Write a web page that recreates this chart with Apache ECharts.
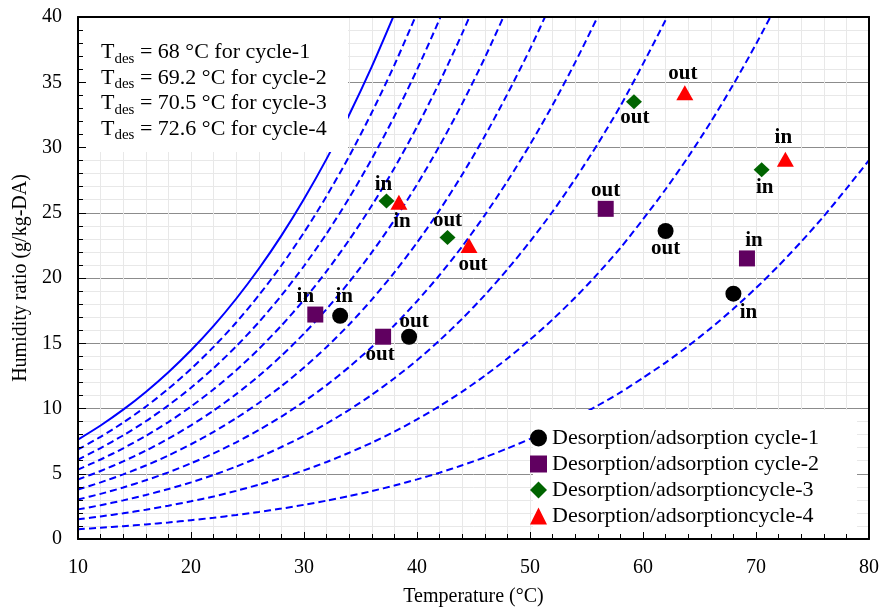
<!DOCTYPE html>
<html>
<head>
<meta charset="utf-8">
<script src="https://cdn.jsdelivr.net/npm/echarts@6/dist/echarts.min.js"></script>
<style>
  html, body { margin: 0; padding: 0; background: #ffffff; }
  #chart { width: 885px; height: 612px; }
</style>
</head>
<body>
<div id="chart"></div>
<script>
// Dry-bulb temperatures (°C) at which the relative-humidity curves are sampled
const curveTemps = [10, 12, 14, 16, 18, 20, 22, 24, 26, 28, 30, 32, 34, 36, 38, 40, 42, 44,
  46, 48, 50, 52, 54, 56, 58, 60, 62, 64, 66, 68, 70, 72, 74, 76, 78, 80];

// Humidity ratio (g/kg-DA) along each constant-RH curve, starting at 10 °C
const rh100 = [7.62, 8.70, 9.91, 11.27, 12.78, 14.46, 16.33, 18.41, 20.71, 23.25, 26.06, 29.13, 32.51, 36.20, 40.22];
const rh90 = [6.86, 7.83, 8.92, 10.14, 11.51, 13.03, 14.72, 16.59, 18.67, 20.96, 23.49, 26.28, 29.33, 32.68, 36.32, 40.30];
const rh80 = [6.09, 6.97, 7.94, 9.02, 10.24, 11.59, 13.09, 14.76, 16.61, 18.66, 20.92, 23.40, 26.14, 29.13, 32.39, 35.96, 39.84, 44.05];
const rh70 = [5.32, 6.09, 6.95, 7.90, 8.96, 10.15, 11.47, 12.93, 14.56, 16.35, 18.33, 20.52, 22.92, 25.55, 28.43, 31.58, 35.01, 38.74, 42.78];
const rh60 = [4.56, 5.21, 5.95, 6.77, 7.69, 8.71, 9.84, 11.10, 12.49, 14.04, 15.74, 17.62, 19.69, 21.96, 24.44, 27.16, 30.13, 33.36, 36.87, 40.68];
const rh50 = [3.79, 4.34, 4.95, 5.63, 6.40, 7.26, 8.21, 9.26, 10.42, 11.71, 13.14, 14.71, 16.44, 18.34, 20.43, 22.71, 25.20, 27.92, 30.88, 34.10, 37.54, 41.27];
const rh40 = [3.03, 3.46, 3.95, 4.50, 5.11, 5.80, 6.56, 7.41, 8.35, 9.38, 10.53, 11.79, 13.18, 14.71, 16.38, 18.22, 20.23, 22.42, 24.82, 27.42, 30.22, 33.25, 36.52, 40.04];
const rh30 = [2.27, 2.59, 2.96, 3.37, 3.83, 4.34, 4.91, 5.55, 6.26, 7.05, 7.90, 8.85, 9.90, 11.05, 12.32, 13.70, 15.22, 16.88, 18.69, 20.66, 22.79, 25.09, 27.59, 30.28, 33.18, 36.41, 39.77, 43.39];
const rh20 = [1.51, 1.73, 1.97, 2.24, 2.55, 2.89, 3.26, 3.69, 4.16, 4.68, 5.26, 5.90, 6.61, 7.38, 8.23, 9.16, 10.18, 11.29, 12.51, 13.83, 15.27, 16.82, 18.50, 20.33, 22.30, 24.50, 26.80, 29.28, 31.96, 34.84, 37.92, 41.21];
const rh10 = [0.75, 0.86, 0.98, 1.12, 1.27, 1.44, 1.63, 1.84, 2.07, 2.33, 2.62, 2.94, 3.29, 3.67, 4.10, 4.57, 5.08, 5.65, 6.26, 6.94, 7.67, 8.45, 9.30, 10.23, 11.23, 12.35, 13.52, 14.79, 16.16, 17.64, 19.23, 20.94, 22.78, 24.74, 26.84, 29.03];

// Desorption temperatures (°C) of the four cycles
const tdes = [68, 69.2, 70.5, 72.6];

// Measured air states: [temperature °C, humidity ratio g/kg-DA, stream]
const cycle1 = [[33.2, 17.1, 'in'], [39.3, 15.5, 'out'], [62.0, 23.6, 'out'], [tdes[0], 18.8, 'in']];
const cycle2 = [[31.0, 17.2, 'in'], [37.0, 15.5, 'out'], [56.7, 25.3, 'out'], [tdes[1], 21.5, 'in']];
const cycle3 = [[37.3, 25.9, 'in'], [42.7, 23.1, 'out'], [59.2, 33.5, 'out'], [tdes[2], 28.3, 'in']];
const cycle4 = [[38.4, 25.8, 'in'], [44.6, 22.5, 'out'], [63.7, 34.2, 'out'], [tdes[3], 29.1, 'in']];

const seriesNames = [
  'Desorption/adsorption cycle-1',
  'Desorption/adsorption cycle-2',
  'Desorption/adsorptioncycle-3',
  'Desorption/adsorptioncycle-4'
];

// Pixel offsets of the in/out tags relative to each marker centre
const tagOffsets = [
  [[4, -19], [5, -15], [0, 18], [15, 19]],
  [[-10, -18], [-3, 18], [0, -18], [7, -18]],
  [[-3, -16], [0, -17], [1, 16], [3, 18]],
  [[3, 19], [4, 19], [-2, -19], [-2, -22]]
];

const SERIF = 'Liberation Serif, Times New Roman, serif';
const BLUE = '#0000ff';

const rhCurves = [rh100, rh90, rh80, rh70, rh60, rh50, rh40, rh30, rh20, rh10];

const lineSeries = rhCurves.map((vals, k) => ({
  type: 'line',
  xAxisIndex: 0,
  yAxisIndex: 0,
  data: vals.map((w, i) => [curveTemps[i], w]),
  showSymbol: false,
  symbol: 'none',
  smooth: 0.25,
  clip: true,
  silent: true,
  z: 2,
  lineStyle: {
    color: BLUE,
    width: 2,
    type: k === 0 ? 'solid' : [7, 4]
  }
}));

const markerStyles = [
  { symbol: 'circle', size: 16, color: '#000000' },
  { symbol: 'rect', size: 16, color: '#600060' },
  { symbol: 'diamond', size: [16, 15], color: '#006400' },
  { symbol: 'triangle', size: [17, 15], color: '#ff0000' }
];

const cycles = [cycle1, cycle2, cycle3, cycle4];

const scatterSeries = cycles.map((pts, s) => ({
  type: 'scatter',
  name: seriesNames[s],
  xAxisIndex: 0,
  yAxisIndex: 0,
  symbol: markerStyles[s].symbol,
  symbolSize: markerStyles[s].size,
  itemStyle: { color: markerStyles[s].color, opacity: 1 },
  z: 5,
  label: {
    show: true,
    position: 'inside',
    formatter: '{b}',
    fontFamily: SERIF,
    fontWeight: 'bold',
    fontSize: 21,
    color: '#000000'
  },
  data: pts.map((p, i) => ({
    value: [p[0], p[1]],
    name: p[2],
    label: { offset: tagOffsets[s][i] }
  }))
}));

const tdesText = tdes.map((t, i) =>
  '{t|T}{s|des}{t| = ' + t + ' °C for cycle-' + (i + 1) + '}'
).join('\n');

const axisLabelStyle = { fontFamily: SERIF, fontSize: 20, color: '#000000' };
const axisNameStyle = { fontFamily: SERIF, fontSize: 20, color: '#000000' };

const option = {
  animation: false,
  backgroundColor: '#ffffff',
  grid: { left: 78, right: 16, top: 17, bottom: 67, containLabel: false },
  xAxis: [
    { // grid lines only
      type: 'value', min: 10, max: 80, interval: 10, position: 'bottom', z: 0,
      axisLine: { show: false }, axisTick: { show: false }, axisLabel: { show: false },
      splitLine: { show: true, lineStyle: { color: '#e8e8e8', width: 1 } },
      minorTick: { show: false, splitNumber: 5 },
      minorSplitLine: { show: true, lineStyle: { color: '#e8e8e8', width: 1 } }
    },
    { // axis line, ticks and labels
      type: 'value', min: 10, max: 80, interval: 10, position: 'bottom', z: 6,
      axisLine: { show: true, onZero: false, lineStyle: { color: '#000000', width: 2 } },
      axisTick: { show: true, inside: true, length: 7, lineStyle: { color: '#000000', width: 1 } },
      minorTick: { show: true, splitNumber: 5, length: 5, lineStyle: { color: '#000000', width: 1 } },
      axisLabel: Object.assign({ margin: 19 }, axisLabelStyle),
      splitLine: { show: false },
      name: 'Temperature (°C)', nameLocation: 'middle', nameGap: 48,
      nameTextStyle: axisNameStyle
    },
    { // top frame
      type: 'value', min: 10, max: 80, interval: 10, position: 'top', z: 6,
      axisLine: { show: true, onZero: false, lineStyle: { color: '#000000', width: 2 } },
      axisTick: { show: false }, axisLabel: { show: false }, splitLine: { show: false }
    }
  ],
  yAxis: [
    {
      type: 'value', min: 0, max: 40, interval: 5, position: 'left', z: 0,
      axisLine: { show: false }, axisTick: { show: false }, axisLabel: { show: false },
      splitLine: { show: true, lineStyle: { color: '#8c8c8c', width: 1 } },
      minorTick: { show: false, splitNumber: 5 },
      minorSplitLine: { show: true, lineStyle: { color: '#e8e8e8', width: 1 } }
    },
    {
      type: 'value', min: 0, max: 40, interval: 5, position: 'left', z: 6,
      axisLine: { show: true, onZero: false, lineStyle: { color: '#000000', width: 2 } },
      axisTick: { show: true, inside: true, length: 8, lineStyle: { color: '#000000', width: 1 } },
      minorTick: { show: true, splitNumber: 5, length: 5, lineStyle: { color: '#000000', width: 1 } },
      axisLabel: Object.assign({ margin: 16 }, axisLabelStyle),
      splitLine: { show: false },
      name: 'Humidity ratio (g/kg-DA)', nameLocation: 'middle', nameGap: 38,
      nameTextStyle: axisNameStyle
    },
    {
      type: 'value', min: 0, max: 40, interval: 5, position: 'right', z: 6,
      axisLine: { show: true, onZero: false, lineStyle: { color: '#000000', width: 2 } },
      axisTick: { show: false }, axisLabel: { show: false }, splitLine: { show: false }
    }
  ],
  legend: {
    orient: 'vertical',
    left: 530,
    top: 425,
    padding: 0,
    itemGap: 0,
    itemWidth: 17,
    itemHeight: 17,
    selectedMode: false,
    z: 10,
    data: seriesNames,
    textStyle: { fontFamily: SERIF, fontSize: 22, color: '#000000', lineHeight: 26 }
  },
  graphic: [
    { // backdrop of the desorption-temperature note
      type: 'rect', z: 3, silent: true,
      shape: { x: 79, y: 18, width: 269, height: 134 },
      style: { fill: '#ffffff' }
    },
    { // backdrop of the legend
      type: 'rect', z: 3, silent: true,
      shape: { x: 533, y: 410, width: 324, height: 134 },
      style: { fill: '#ffffff' }
    },
    {
      type: 'text', z: 4, silent: true,
      left: 101, top: 38,
      style: {
        text: tdesText,
        fill: '#000000',
        rich: {
          t: { fontFamily: SERIF, fontSize: 22, lineHeight: 25.5, fill: '#000000' },
          s: { fontFamily: SERIF, fontSize: 15, lineHeight: 12, padding: [13.5, 0, 0, 0], fill: '#000000' }
        }
      }
    }
  ],
  series: lineSeries.concat(scatterSeries)
};

const chart = echarts.init(document.getElementById('chart'), null, { renderer: 'canvas' });
chart.setOption(option);
</script>
</body>
</html>
